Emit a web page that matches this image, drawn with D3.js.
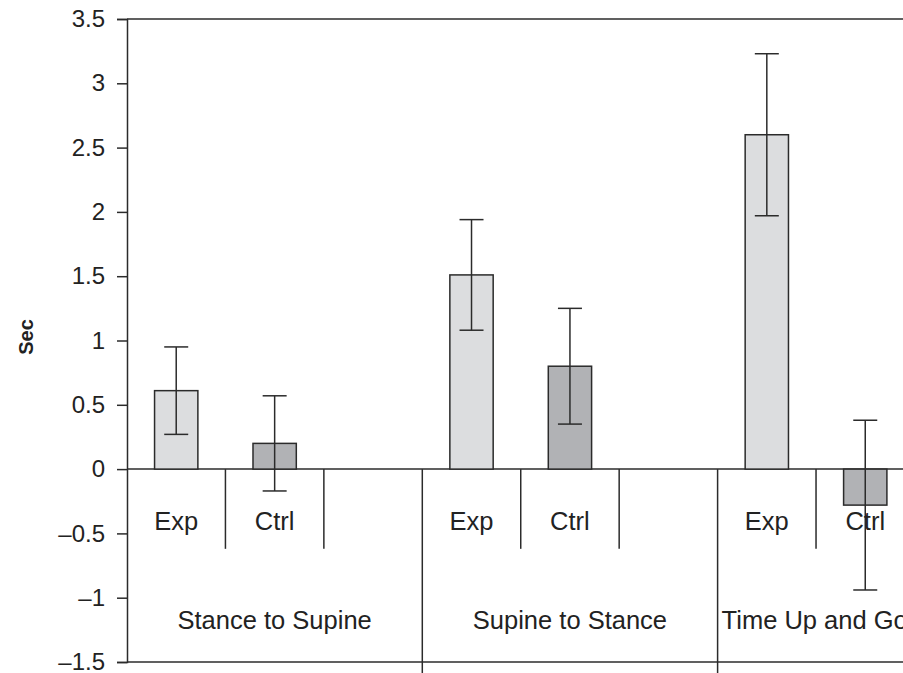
<!DOCTYPE html>
<html>
<head>
<meta charset="utf-8">
<script src="https://cdn.jsdelivr.net/npm/d3@7"></script>
<style>
  body { margin: 0; background: #fff; }
  svg { display: block; font-family: "Liberation Sans", Arial, Helvetica, sans-serif; }
</style>
</head>
<body>
<svg id="chart" width="903" height="673"></svg>
<script>
// chart values
var groups = ["Stance to Supine", "Supine to Stance", "Time Up and Go"];
var subs = ["Exp", "Ctrl", ""];
var expMeans = [0.61, 1.51, 2.60];
var expErr = [0.34, 0.43, 0.63];
var ctrlMeans = [0.20, 0.80, -0.28];
var ctrlErr = [0.37, 0.45, 0.66];
var yTicks = [-1.5, -1, -0.5, 0, 0.5, 1, 1.5, 2, 2.5, 3, 3.5];

var svg = d3.select('#chart');
var plotLeft = 127, plotTop = 19, plotBottom = 662;
var groupW = 295.3;
var ink = '#2b2b2b';

var y = d3.scaleLinear().domain([-1.5, 3.5]).range([plotBottom, plotTop]);
var x0 = d3.scaleBand().domain(groups).range([plotLeft, plotLeft + groupW * groups.length]);
var x1 = d3.scaleBand().domain(subs).range([0, x0.bandwidth()]);
var barW = x1.bandwidth() * 0.44;

// rows for bars
var rows = [];
groups.forEach(function(g, i) {
  rows.push({group: g, sub: 'Exp', v: expMeans[i], e: expErr[i], fill: '#dcdddf'});
  rows.push({group: g, sub: 'Ctrl', v: ctrlMeans[i], e: ctrlErr[i], fill: '#b1b2b5'});
});
function cx(d) { return x0(d.group) + x1(d.sub) + x1.bandwidth() / 2; }

// frame lines (top and bottom)
svg.append('line').attr('x1', plotLeft).attr('x2', 903).attr('y1', y(3.5)).attr('y2', y(3.5))
  .attr('stroke', ink).attr('stroke-width', 1.5);
svg.append('line').attr('x1', plotLeft).attr('x2', 903).attr('y1', y(-1.5)).attr('y2', y(-1.5))
  .attr('stroke', ink).attr('stroke-width', 1.5);

// y axis
var yAxis = d3.axisLeft(y).tickValues(yTicks).tickSize(10).tickPadding(12)
  .tickFormat(function(d) { return d < 0 ? '\u2013' + Math.abs(d) : String(d); });
var ga = svg.append('g').attr('transform', 'translate(' + plotLeft + ',0)').call(yAxis);
ga.select('.domain').attr('stroke', ink).attr('stroke-width', 1.5);
ga.selectAll('.tick line').attr('stroke', ink).attr('stroke-width', 1.5);
ga.selectAll('.tick text').attr('fill', '#222').style('font-size', '24px');

// zero line
svg.append('line').attr('x1', plotLeft).attr('x2', 903).attr('y1', y(0)).attr('y2', y(0))
  .attr('stroke', ink).attr('stroke-width', 1.5);

// bars
svg.selectAll('rect.bar').data(rows).enter().append('rect')
  .attr('class', 'bar')
  .attr('x', function(d) { return cx(d) - barW / 2; })
  .attr('width', barW)
  .attr('y', function(d) { return y(Math.max(0, d.v)); })
  .attr('height', function(d) { return Math.abs(y(d.v) - y(0)); })
  .attr('fill', function(d) { return d.fill; })
  .attr('stroke', ink).attr('stroke-width', 1.5);

// error bars
var eb = svg.selectAll('g.err').data(rows).enter().append('g').attr('class', 'err')
  .attr('stroke', ink).attr('stroke-width', 1.5);
eb.append('line')
  .attr('x1', cx).attr('x2', cx)
  .attr('y1', function(d) { return y(d.v + d.e); })
  .attr('y2', function(d) { return y(d.v - d.e); });
eb.append('line')
  .attr('x1', function(d) { return cx(d) - 12; }).attr('x2', function(d) { return cx(d) + 12; })
  .attr('y1', function(d) { return y(d.v + d.e); }).attr('y2', function(d) { return y(d.v + d.e); });
eb.append('line')
  .attr('x1', function(d) { return cx(d) - 12; }).attr('x2', function(d) { return cx(d) + 12; })
  .attr('y1', function(d) { return y(d.v - d.e); }).attr('y2', function(d) { return y(d.v - d.e); });

// category dividers: sub level and group level
groups.forEach(function(g) {
  subs.forEach(function(s, j) {
    if (j === 0) return;
    svg.append('line')
      .attr('x1', x0(g) + x1(s)).attr('x2', x0(g) + x1(s))
      .attr('y1', y(0)).attr('y2', y(-0.62))
      .attr('stroke', ink).attr('stroke-width', 1.5);
  });
  if (g !== groups[0]) {
    svg.append('line')
      .attr('x1', x0(g)).attr('x2', x0(g))
      .attr('y1', y(0)).attr('y2', 673)
      .attr('stroke', ink).attr('stroke-width', 1.5);
  }
});

// sub labels
svg.selectAll('text.sub').data(rows).enter().append('text')
  .attr('class', 'sub')
  .attr('x', cx).attr('y', 530)
  .attr('text-anchor', 'middle')
  .attr('fill', '#222').style('font-size', '25.5px')
  .text(function(d) { return d.sub; });

// group labels (last one runs off the right edge)
svg.selectAll('text.grp').data(groups).enter().append('text')
  .attr('class', 'grp')
  .attr('x', function(d, i) { return i < groups.length - 1 ? x0(d) + x0.bandwidth() / 2 : x0(d) + 4; })
  .attr('y', 629)
  .attr('text-anchor', function(d, i) { return i < groups.length - 1 ? 'middle' : 'start'; })
  .attr('fill', '#222').style('font-size', '25.5px')
  .text(function(d) { return d; });

// y title
svg.append('text')
  .attr('transform', 'translate(33,337) rotate(-90)')
  .attr('text-anchor', 'middle')
  .attr('fill', '#222').style('font-size', '20px').style('font-weight', 'bold')
  .text('Sec');
</script>
</body>
</html>
